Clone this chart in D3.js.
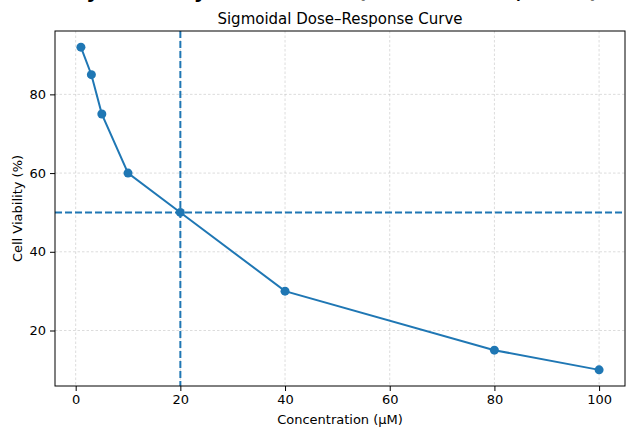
<!DOCTYPE html>
<html>
<head>
<meta charset="utf-8">
<script src="https://cdn.jsdelivr.net/npm/d3@7"></script>
<style>
  body { margin: 0; background: #fff; }
  text { font-family: "DejaVu Sans", sans-serif; fill: #000; }
</style>
</head>
<body>
<div id="chart"></div>
<script>
// data
const concentration = [1, 3, 5, 10, 20, 40, 80, 100]
const viability = [92, 85, 75, 60, 50, 30, 15, 10]
const xTicks = [0, 20, 40, 60, 80, 100]
const yTicks = [20, 40, 60, 80]
const ic50 = 20
const halfLine = 50

const width = 629, height = 435
const margin = { top: 31, right: 4, bottom: 49, left: 55 }
const blue = '#1f77b4'

const svg = d3.select('#chart').append('svg')
  .attr('width', width)
  .attr('height', height)

const x = d3.scaleLinear().domain([-3.95, 104.95]).range([margin.left, width - margin.right])
const y = d3.scaleLinear().domain([5.9, 96.1]).range([height - margin.bottom, margin.top])

//grid
const grid = svg.append('g')
grid.selectAll('.gx').data(xTicks).join('line')
  .attr('x1', d => x(d)).attr('x2', d => x(d))
  .attr('y1', y.range()[1]).attr('y2', y.range()[0])
  .attr('stroke', '#b8b8b8').attr('stroke-width', 0.5).attr('stroke-dasharray', '2.5,2')
grid.selectAll('.gy').data(yTicks).join('line')
  .attr('y1', d => y(d)).attr('y2', d => y(d))
  .attr('x1', x.range()[0]).attr('x2', x.range()[1])
  .attr('stroke', '#b8b8b8').attr('stroke-width', 0.5).attr('stroke-dasharray', '2.5,2')

//axes
svg.append('g')
  .attr('transform', `translate(0,${height - margin.bottom})`)
  .call(d3.axisBottom(x).tickValues(xTicks).tickSize(5).tickPadding(4).tickSizeOuter(0))
  .call(g => g.select('.domain').remove())
  .call(g => g.selectAll('text').attr('font-size', 13).attr('font-family', 'DejaVu Sans'))
svg.append('g')
  .attr('transform', `translate(${margin.left},0)`)
  .call(d3.axisLeft(y).tickValues(yTicks).tickSize(5).tickPadding(4).tickSizeOuter(0))
  .call(g => g.select('.domain').remove())
  .call(g => g.selectAll('text').attr('font-size', 13).attr('font-family', 'DejaVu Sans'))

// reference lines
svg.append('line')
  .attr('x1', x(ic50)).attr('x2', x(ic50))
  .attr('y1', y.range()[1]).attr('y2', y.range()[0])
  .attr('stroke', blue).attr('stroke-width', 2).attr('stroke-dasharray', '7,3')
svg.append('line')
  .attr('x1', x.range()[0]).attr('x2', x.range()[1])
  .attr('y1', y(halfLine)).attr('y2', y(halfLine))
  .attr('stroke', blue).attr('stroke-width', 2).attr('stroke-dasharray', '7,3')

const pts = concentration.map((c, i) => [c, viability[i]])
svg.append('path')
  .datum(pts)
  .attr('fill', 'none')
  .attr('stroke', blue)
  .attr('stroke-width', 2)
  .attr('d', d3.line().x(d => x(d[0])).y(d => y(d[1])))
svg.selectAll('.pt').data(pts).join('circle')
  .attr('cx', d => x(d[0])).attr('cy', d => y(d[1]))
  .attr('r', 4.5).attr('fill', blue)

// frame
svg.append('rect')
  .attr('x', margin.left).attr('y', margin.top)
  .attr('width', width - margin.left - margin.right)
  .attr('height', height - margin.top - margin.bottom)
  .attr('fill', 'none').attr('stroke', '#000').attr('stroke-width', 1)

// titles - the suptitle sits mostly above the page, only descenders show
svg.append('text')
  .attr('x', 335).attr('y', -2)
  .attr('text-anchor', 'middle')
  .attr('font-size', 20).attr('font-weight', 'bold')
  .text('Cytotoxicity Test Results (IC50 = 20 nM, n = 3)')
svg.append('text')
  .attr('x', 340).attr('y', 24)
  .attr('text-anchor', 'middle')
  .attr('font-size', 15)
  .text('Sigmoidal Dose–Response Curve')
svg.append('text')
  .attr('x', 340).attr('y', 424)
  .attr('text-anchor', 'middle')
  .attr('font-size', 13)
  .text('Concentration (µM)')
svg.append('text')
  .attr('transform', `translate(22,${(margin.top + height - margin.bottom) / 2}) rotate(-90)`)
  .attr('text-anchor', 'middle')
  .attr('font-size', 13)
  .text('Cell Viability (%)')
</script>
</body>
</html>
